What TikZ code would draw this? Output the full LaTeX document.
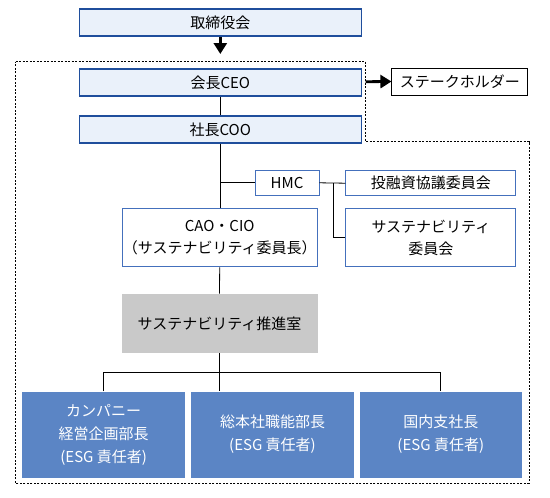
\documentclass[tikz,border=0pt]{standalone}
\usepackage{fontspec}
\setmainfont{Noto Sans CJK JP}
\usepackage{xcolor}
\usetikzlibrary{arrows.meta,positioning,calc}
\definecolor{boardblue}{HTML}{1F4E9C}
\definecolor{boardfill}{HTML}{EAF1FA}
\definecolor{midblue}{HTML}{4470BC}
\definecolor{unitblue}{HTML}{5B85C5}
\definecolor{officegray}{HTML}{C9C9C9}

\begin{document}
\begin{tikzpicture}[x=1pt, y=-1pt,
  top/.style={draw=boardblue, line width=1.6pt, fill=boardfill, inner sep=0pt,
    minimum width=282pt, minimum height=27pt, font=\fontsize{15}{18}\selectfont},
  comm/.style={draw=midblue, line width=0.9pt, fill=white, inner sep=0pt,
    align=center, font=\fontsize{15}{22}\selectfont},
  outside/.style={draw=black, line width=0.9pt, fill=white, inner sep=0pt,
    minimum width=136pt, minimum height=27pt, font=\fontsize{15}{18}\selectfont},
  office/.style={fill=officegray, inner sep=0pt, minimum width=196pt,
    minimum height=59pt, font=\fontsize{15}{18}\selectfont},
  unit/.style={fill=unitblue, text=white, inner sep=0pt, align=center,
    minimum height=86pt, font=\fontsize{15}{23}\selectfont},
  link/.style={draw=black, line width=0.8pt},
  fat/.style={-{Triangle[length=11pt, width=13pt]}, line width=2.8pt},
  grp/.style={draw=black, line width=0.8pt, dash pattern=on 2pt off 1.5pt}
]
  \useasboundingbox (0,0) rectangle (550,498);

  % management group
  \draw[grp] (15.7,61.7) -- (365.7,61.7) -- (365.7,141.7) -- (529,141.7)
    -- (529,483.3) -- (15.7,483.3) -- cycle;

  \node[top] (board) at (220.3,22.7) {取締役会};
  \node[top] (ceo)   at (220.3,82.5) {会長CEO};
  \node[top] (coo)   at (220.3,129.5) {社長COO};
  \node[outside] (stake) at (459.9,81.5) {ステークホルダー};

  \node[comm, minimum width=64pt, minimum height=24.5pt] (hmc) at (287,182.8) {HMC};
  \node[comm, minimum width=170pt, minimum height=25pt] (invest) at (430.9,183.2) {投融資協議委員会};
  \node[comm, minimum width=195pt, minimum height=58pt] (cao) at (219.7,237.8)
    {CAO・CIO\\（サステナビリティ委員長）};
  \node[comm, minimum width=170pt, minimum height=58pt] (susc) at (430.9,237.8)
    {サステナビリティ\\委員会};

  \node[office] (promo) at (219.5,323.3) {サステナビリティ推進室};

  \node[unit, minimum width=163pt] (company) at (103.7,434.5)
    {カンパニー\\経営企画部長\\(ESG 責任者)};
  \node[unit, minimum width=163pt] (corporate) at (272.5,434.5)
    {総本社職能部長\\(ESG 責任者)};
  \node[unit, minimum width=162pt] (domestic) at (440.8,434.5)
    {国内支社長\\(ESG 責任者)};

  \coordinate (boardtip) at (220.3,54);
  \coordinate (grpedge) at (365.7,81.7);
  \coordinate (hub) at (333.3,183);
  \coordinate (bus) at (219.5,372.7);

  \draw[fat] (board.south) -- (boardtip);
  \draw[fat] (grpedge) -- (stake.west);

  \draw[link] (ceo.south) -- (coo.north);
  \draw[link] (coo.south) -- (cao.north -| coo.south);
  \draw[link] (hmc.west) -- (hmc.west -| coo.south);
  \draw[link] (hmc.east) -- (invest.west);
  \draw[link] (hub) |- (susc.west);
  \draw[link] (cao.south) -- (promo.north);
  \draw[link] (promo.south) -- (promo.south |- corporate.north);
  \draw[link] (company.north) |- (bus) -| (domestic.north);
\end{tikzpicture}
\end{document}
